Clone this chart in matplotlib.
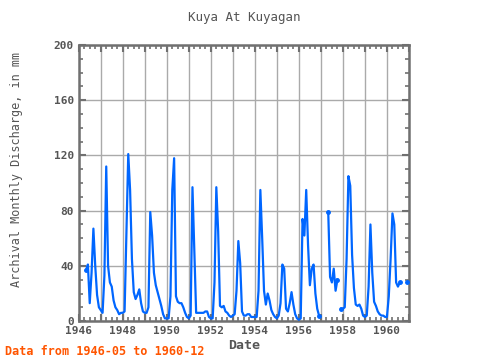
import numpy as np
import matplotlib
matplotlib.use("Agg")
import matplotlib.pyplot as plt
from matplotlib.ticker import MultipleLocator, FuncFormatter

nan = np.nan

# monthly discharge (mm), Jan..Dec for each year
years = list(range(1946, 1961))
q1946 = [nan, nan, nan, nan, 37, 41, 13, 35, 67, 40, 19, 10]
q1947 = [8, 6, 33, 112, 40, 28, 25, 15, 10, 8, 5, 6]
q1948 = [6, 7, 65, 121, 95, 45, 21, 16, 19, 23, 13, 7]
q1949 = [6, 6, 10, 79, 62, 35, 26, 21, 16, 11, 5, 2]
q1950 = [2, 2, 18, 95, 118, 18, 14, 13, 13, 10, 6, 3]
q1951 = [2, 4, 97, 52, 6, 6, 6, 6, 6, 7, 7, 3]
q1952 = [2, 2, 28, 97, 65, 11, 10, 11, 7, 6, 4, 3]
q1953 = [4, 5, 22, 58, 42, 7, 4, 4, 5, 5, 3, 3]
q1954 = [3, 3, 22, 95, 60, 22, 12, 20, 15, 8, 5, 3]
q1955 = [2, 4, 13, 41, 38, 9, 7, 13, 21, 12, 5, 2]
q1956 = [1, 2, 74, 62, 95, 55, 26, 38, 41, 20, 9, 4]
q1957 = [nan, nan, nan, nan, 79, 32, 28, 38, 22, 30, nan, 9]
q1958 = [9, 10, 45, 105, 98, 48, 24, 12, 11, 12, 9, 4]
q1959 = [3, 4, 25, 70, 35, 14, 11, 7, 5, 4, 4, 3]
q1960 = [3, 18, 45, 78, 70, 28, 25, 28, nan, nan, nan, 28]

series = [q1946, q1947, q1948, q1949, q1950, q1951, q1952, q1953,
          q1954, q1955, q1956, q1957, q1958, q1959, q1960]

t = []
q = []
for y, vals in zip(years, series):
    for m, v in enumerate(vals):
        t.append(y + m / 12.0)
        q.append(v)
t = np.array(t)
q = np.array(q, dtype=float)

# points next to a gap get a dot, like the original
ok = ~np.isnan(q)
prev_gap = np.r_[True, ~ok[:-1]]
next_gap = np.r_[~ok[1:], True]
edge = ok & (prev_gap | next_gap)

mono = "DejaVu Sans Mono"
grey = "#555555"
blue = "#0066ff"

fig = plt.figure(figsize=(4.8, 3.6), dpi=100)
ax = fig.add_axes([0.164, 0.108, 0.688, 0.767])

ax.plot(t, q, color=blue, linewidth=1.6, zorder=3)
ax.plot(t[edge], q[edge], "o", color=blue, markersize=2.5, zorder=3)

ax.set_xlim(1946, 1961)
ax.set_ylim(0, 200)

ax.xaxis.set_major_locator(MultipleLocator(1))
ax.xaxis.set_minor_locator(MultipleLocator(0.25))
ax.xaxis.set_major_formatter(FuncFormatter(
    lambda v, p: str(int(round(v))) if int(round(v)) % 2 == 0 else ""))
ax.yaxis.set_major_locator(MultipleLocator(40))
ax.yaxis.set_minor_locator(MultipleLocator(10))

ax.grid(True, which="major", color="#aaaaaa", linewidth=1.0)
ax.set_axisbelow(True)

for s in ax.spines.values():
    s.set_color("#707070")
    s.set_linewidth(1.8)

ax.tick_params(which="both", direction="in", top=True, right=True,
               color="#707070", labelcolor=grey)
ax.tick_params(which="major", length=5, width=1.5, labelsize=8)
ax.tick_params(which="minor", length=3, width=1.2)
for lab in ax.get_xticklabels() + ax.get_yticklabels():
    lab.set_fontfamily(mono)
    lab.set_fontweight("bold")

ax.set_title("Kuya At Kuyagan", fontsize=9, color=grey, family=mono, pad=17)
ax.set_xlabel("Date", fontsize=9.5, color=grey, family=mono,
              fontweight="bold", labelpad=2)
ax.set_ylabel("Archival Monthly Discharge, in mm", fontsize=8.5, color=grey,
              family=mono)
ax.yaxis.set_label_coords(-0.17, 0.55)

fig.text(0.01, 0.015, "Data from 1946-05 to 1960-12", color="#ff5500",
         fontsize=8.5, family=mono, fontweight="bold")

fig.savefig("out.png", dpi=100)
